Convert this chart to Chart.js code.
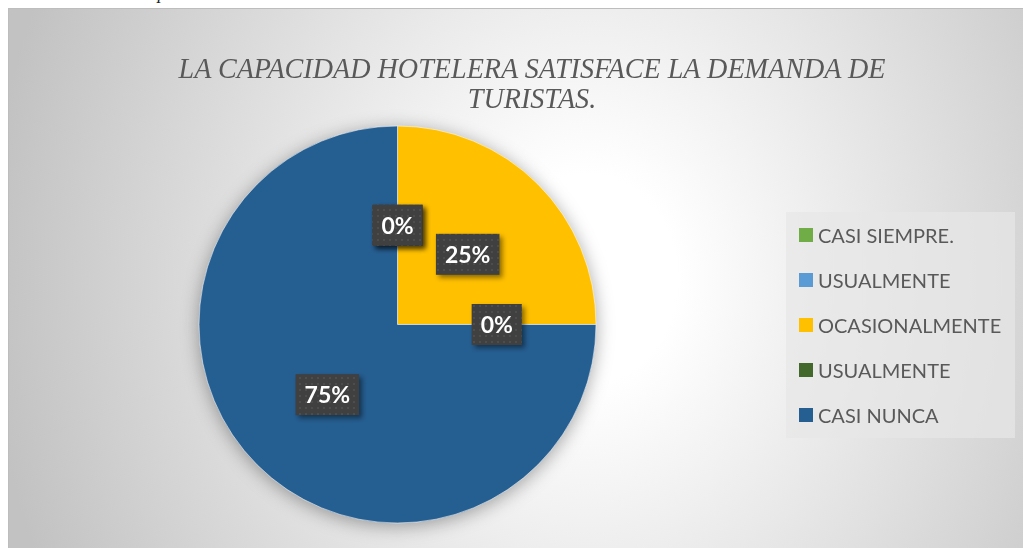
<!DOCTYPE html>
<html>
<head>
<meta charset="utf-8">
<script src="https://cdn.jsdelivr.net/npm/chart.js@4/dist/chart.umd.min.js"></script>
<style>
  body { margin: 0; width: 1023px; height: 548px; overflow: hidden; position: relative; background: #fff; }
  #cap { position: absolute; left: 14px; top: -17px; font-family: "Liberation Serif", "DejaVu Serif", serif; font-style: italic; font-size: 18px; color: #222; white-space: nowrap; }
  #frame {
    position: absolute; left: 8px; top: 8px; width: 1015px; height: 540px; box-sizing: border-box;
    border-top: 1px solid #bdbdbd; border-left: 1px solid #bdbdbd; overflow: hidden;
    background: radial-gradient(ellipse 600px 700px at 578px 270px, #ffffff 0%, #ffffff 15%, #c2c2c2 100%);
  }
  #pie { position: absolute; left: 0; top: 0; }
  #title {
    position: absolute; left: 23px; width: 1000px; top: 44px; text-align: center;
    font-family: "Liberation Serif", "DejaVu Serif", serif; font-style: italic;
    font-size: 29px; line-height: 30px; color: #595959;
    transform: scaleX(0.97);
  }
  #legend {
    position: absolute; left: 777px; top: 203px; width: 229px; height: 226px;
    background: rgba(231, 231, 231, 0.7);
  }
  .item { position: absolute; left: 13px; height: 20px; display: flex; align-items: center;
    font-family: Lato, "Open Sans", sans-serif; font-size: 20px; color: #595959; white-space: nowrap; }
  .item span.box { width: 14px; height: 14px; margin-right: 5px; display: inline-block; }
</style>
</head>
<body>
<div id="cap">Ilustración 4: La capacidad hotelera</div>
<div id="frame">
  <canvas id="pie" width="1014" height="539"></canvas>
  <div id="title">LA CAPACIDAD HOTELERA SATISFACE LA DEMANDA DE<br>TURISTAS.</div>
  <div id="legend"></div>
</div>
<script>
// ===================== Data =====================
const categories = ['CASI SIEMPRE.', 'USUALMENTE', 'OCASIONALMENTE', 'USUALMENTE', 'CASI NUNCA'];
const shares = [0, 0, 25, 0, 75];
const sliceColors = ['#70AD47', '#5B9BD5', '#FFC000', '#43682B', '#255E91'];

// ===================== Legend (right box) =====================
const legend = document.getElementById('legend');
categories.forEach((name, i) => {
  const row = document.createElement('div');
  row.className = 'item';
  row.style.top = (13 + i * 45) + 'px';
  row.innerHTML = '<span class="box" style="background:' + sliceColors[i] + '"></span>' + name;
  legend.appendChild(row);
});

// dotted dark fill for the data labels
function dotPattern(ctx) {
  const c = document.createElement('canvas');
  c.width = 6; c.height = 6;
  const p = c.getContext('2d');
  p.fillStyle = '#404040';
  p.fillRect(0, 0, 6, 6);
  p.fillStyle = '#4d4d4d';
  p.fillRect(2, 2, 2, 2);
  return ctx.createPattern(c, 'repeat');
}

// soft shadow under the whole pie
const pieShadow = {
  id: 'pieShadow',
  beforeDatasetsDraw(chart) {
    const arc = chart.getDatasetMeta(0).data[0];
    if (!arc) return;
    const { x, y, outerRadius } = arc.getProps(['x', 'y', 'outerRadius'], true);
    const ctx = chart.ctx;
    ctx.save();
    ctx.shadowColor = 'rgba(0,0,0,0.35)';
    ctx.shadowBlur = 18;
    ctx.shadowOffsetX = 5000;
    ctx.shadowOffsetY = 3;
    ctx.fillStyle = '#000';
    ctx.beginPath();
    ctx.arc(x - 5000, y, outerRadius, 0, Math.PI * 2);
    ctx.fill();
    ctx.restore();
  }
};

// percentage boxes at half radius
const sliceLabels = {
  id: 'sliceLabels',
  afterDatasetsDraw(chart) {
    const ctx = chart.ctx;
    const total = shares.reduce((a, b) => a + b, 0);
    const fill = dotPattern(ctx);
    ctx.save();
    ctx.font = 'bold 23px Lato, "Open Sans", sans-serif';
    ctx.textAlign = 'center';
    ctx.textBaseline = 'middle';
    chart.getDatasetMeta(0).data.forEach((arc, i) => {
      const p = arc.getCenterPoint();
      const txt = Math.round(shares[i] / total * 100) + '%';
      const w = ctx.measureText(txt).width + 18, h = 41;
      ctx.shadowColor = 'rgba(0,0,0,0.45)';
      ctx.shadowBlur = 5;
      ctx.shadowOffsetX = 3;
      ctx.shadowOffsetY = 3;
      ctx.fillStyle = fill;
      ctx.fillRect(p.x - w / 2, p.y - h / 2, w, h);
      ctx.shadowColor = 'transparent';
      ctx.fillStyle = '#ffffff';
      ctx.fillText(txt, p.x, p.y + 1);
    });
    ctx.restore();
  }
};

new Chart(document.getElementById('pie').getContext('2d'), {
  type: 'pie',
  data: {
    labels: categories,
    datasets: [{
      data: shares,
      backgroundColor: sliceColors,
      borderColor: 'rgba(255,255,255,0.55)',
      borderWidth: 1,
      hoverOffset: 0,
      radius: 198.5
    }]
  },
  options: {
    responsive: false,
    animation: false,
    layout: { padding: { left: 0, right: 237, top: 92, bottom: 0 } },
    plugins: {
      legend: { display: false },
      title: { display: false },
      tooltip: { enabled: false }
    }
  },
  plugins: [pieShadow, sliceLabels]
});
</script>
</body>
</html>
